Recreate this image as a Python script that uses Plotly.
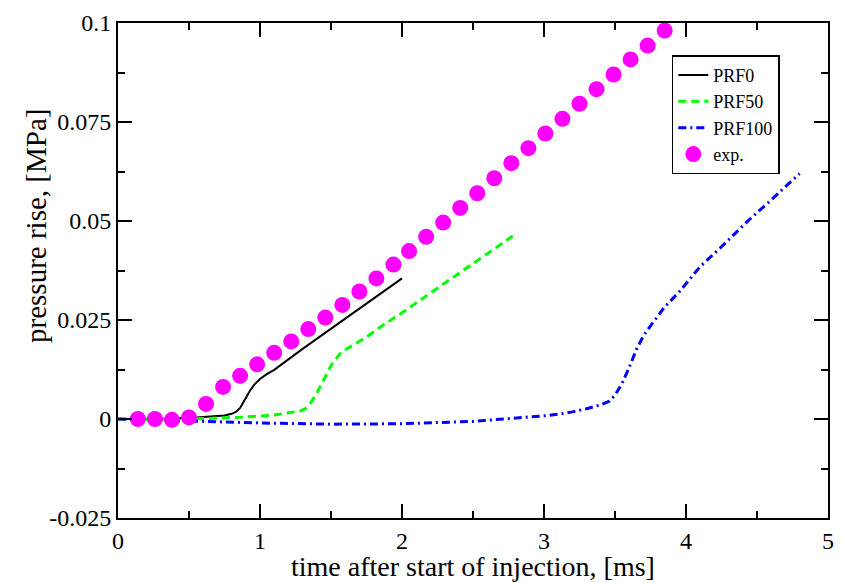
import plotly.graph_objects as go

# PRF0 (solid black)
prf0_x = [0.0, 0.2, 0.4, 0.55, 0.65, 0.75, 0.80, 0.83, 0.86, 0.88, 0.90, 0.93, 0.96, 1.00, 1.05, 1.10, 1.30, 1.50, 1.70, 1.90, 2.00]
prf0_y = [0.0, 0.0, 0.0001, 0.0004, 0.0006, 0.0009, 0.0013, 0.0018, 0.0028, 0.0040, 0.0055, 0.0072, 0.0087, 0.0101, 0.0114, 0.0124, 0.0177, 0.0228, 0.0279, 0.0330, 0.0355]

# PRF50 (dashed green)
prf50_x = [0.0, 0.3, 0.6, 0.9, 1.1, 1.2, 1.28, 1.32, 1.36, 1.40, 1.45, 1.50, 1.57, 1.65, 1.75, 1.85, 2.0, 2.2, 2.4, 2.6, 2.78]
prf50_y = [0.0, -0.0002, 0.0001, 0.0005, 0.0010, 0.0015, 0.0020, 0.0026, 0.0042, 0.0065, 0.0100, 0.0135, 0.0168, 0.0185, 0.0207, 0.0233, 0.0268, 0.0318, 0.0367, 0.0418, 0.0462]

# PRF100 (dash-dot blue)
prf100_x = [0.0, 0.3, 0.6, 1.0, 1.5, 2.0, 2.5, 2.8, 3.0, 3.1, 3.2, 3.3, 3.4, 3.46, 3.5, 3.55, 3.6, 3.65, 3.7, 3.76, 3.85, 3.95, 4.1, 4.25, 4.45, 4.6, 4.8]
prf100_y = [0.0, -0.0003, -0.0006, -0.0010, -0.0013, -0.0012, -0.0006, 0.0002, 0.0008, 0.0012, 0.0018, 0.0026, 0.0036, 0.0045, 0.0060, 0.0090, 0.0130, 0.0175, 0.0210, 0.0240, 0.0283, 0.0320, 0.0385, 0.0435, 0.0505, 0.0553, 0.0620]

# experiment (magenta dots)
exp_x = [0.14, 0.26, 0.38, 0.50, 0.62, 0.74, 0.86, 0.98, 1.10, 1.22, 1.34, 1.46, 1.58, 1.70, 1.82, 1.94,
         2.05, 2.17, 2.29, 2.41, 2.53, 2.65, 2.77, 2.89, 3.01, 3.13, 3.25, 3.37, 3.49, 3.61, 3.73, 3.85]
exp_y = [0.0, 0.0, -0.0002, 0.0004, 0.0038, 0.0081, 0.0109, 0.0138, 0.0167, 0.0196, 0.0227, 0.0256, 0.0288, 0.0322, 0.0355, 0.0390,
         0.0424, 0.0460, 0.0496, 0.0533, 0.0570, 0.0608, 0.0646, 0.0684, 0.0721, 0.0758, 0.0796, 0.0833, 0.0870, 0.0908, 0.0943, 0.0981]

x_ticks = [0, 1, 2, 3, 4, 5]
x_ticklabels = ["0", "1", "2", "3", "4", "5"]
y_ticks = [-0.025, 0, 0.025, 0.05, 0.075, 0.1]
y_ticklabels = ["-0.025", "0", "0.025", "0.05", "0.075", "0.1"]

FONT = "Liberation Serif"

fig = go.Figure()
fig.add_trace(go.Scatter(x=prf0_x, y=prf0_y, mode="lines", name="PRF0",
                         line=dict(color="black", width=2)))
fig.add_trace(go.Scatter(x=prf50_x, y=prf50_y, mode="lines", name="PRF50",
                         line=dict(color="#00ff00", width=3, dash="8px,5px")))
fig.add_trace(go.Scatter(x=prf100_x, y=prf100_y, mode="lines", name="PRF100",
                         line=dict(color="#0000ff", width=3, dash="8px,4px,2px,4px")))
fig.add_trace(go.Scatter(x=exp_x, y=exp_y, mode="markers", name="exp.",
                         marker=dict(color="#ff00ff", size=16, line=dict(width=0))))

axis_common = dict(
    showgrid=False, zeroline=False, showline=True, linecolor="black", linewidth=2,
    mirror="allticks", ticks="inside", ticklen=14, tickwidth=1.5, tickcolor="black",
    tickfont=dict(family=FONT, size=24, color="black"),
)

fig.update_xaxes(range=[0, 5], tickvals=x_ticks, ticktext=x_ticklabels,
                 minor=dict(ticks="inside", ticklen=7, dtick=0.5, tickcolor="black", tickwidth=1.5),
                 **axis_common)
fig.update_yaxes(range=[-0.025, 0.1], tickvals=y_ticks, ticktext=y_ticklabels,
                 minor=dict(ticks="inside", ticklen=7, dtick=0.0125, tick0=0, tickcolor="black", tickwidth=1.5),
                 **axis_common)

fig.add_annotation(text="time after start of injection, [ms]", xref="paper", yref="paper",
                   x=0.5, y=-0.1305, xanchor="center", yanchor="bottom",
                   showarrow=False, borderpad=0,
                   font=dict(family=FONT, size=28, color="black"))
fig.add_annotation(text="pressure rise, [MPa]", xref="paper", yref="paper",
                   x=-0.1155, y=0.59, xanchor="center", yanchor="middle",
                   textangle=-90, showarrow=False,
                   font=dict(family=FONT, size=29, color="black"))

fig.update_layout(
    width=844, height=583,
    margin=dict(l=118, r=10, t=17, b=65),
    paper_bgcolor="white", plot_bgcolor="white",
    showlegend=True,
    legend=dict(x=0.78, y=0.935, xanchor="left", yanchor="top",
                bgcolor="white", bordercolor="black", borderwidth=1.5,
                font=dict(family=FONT, size=18, color="black"),
                tracegroupgap=0, itemwidth=30),
)

fig.write_html("out.html")
